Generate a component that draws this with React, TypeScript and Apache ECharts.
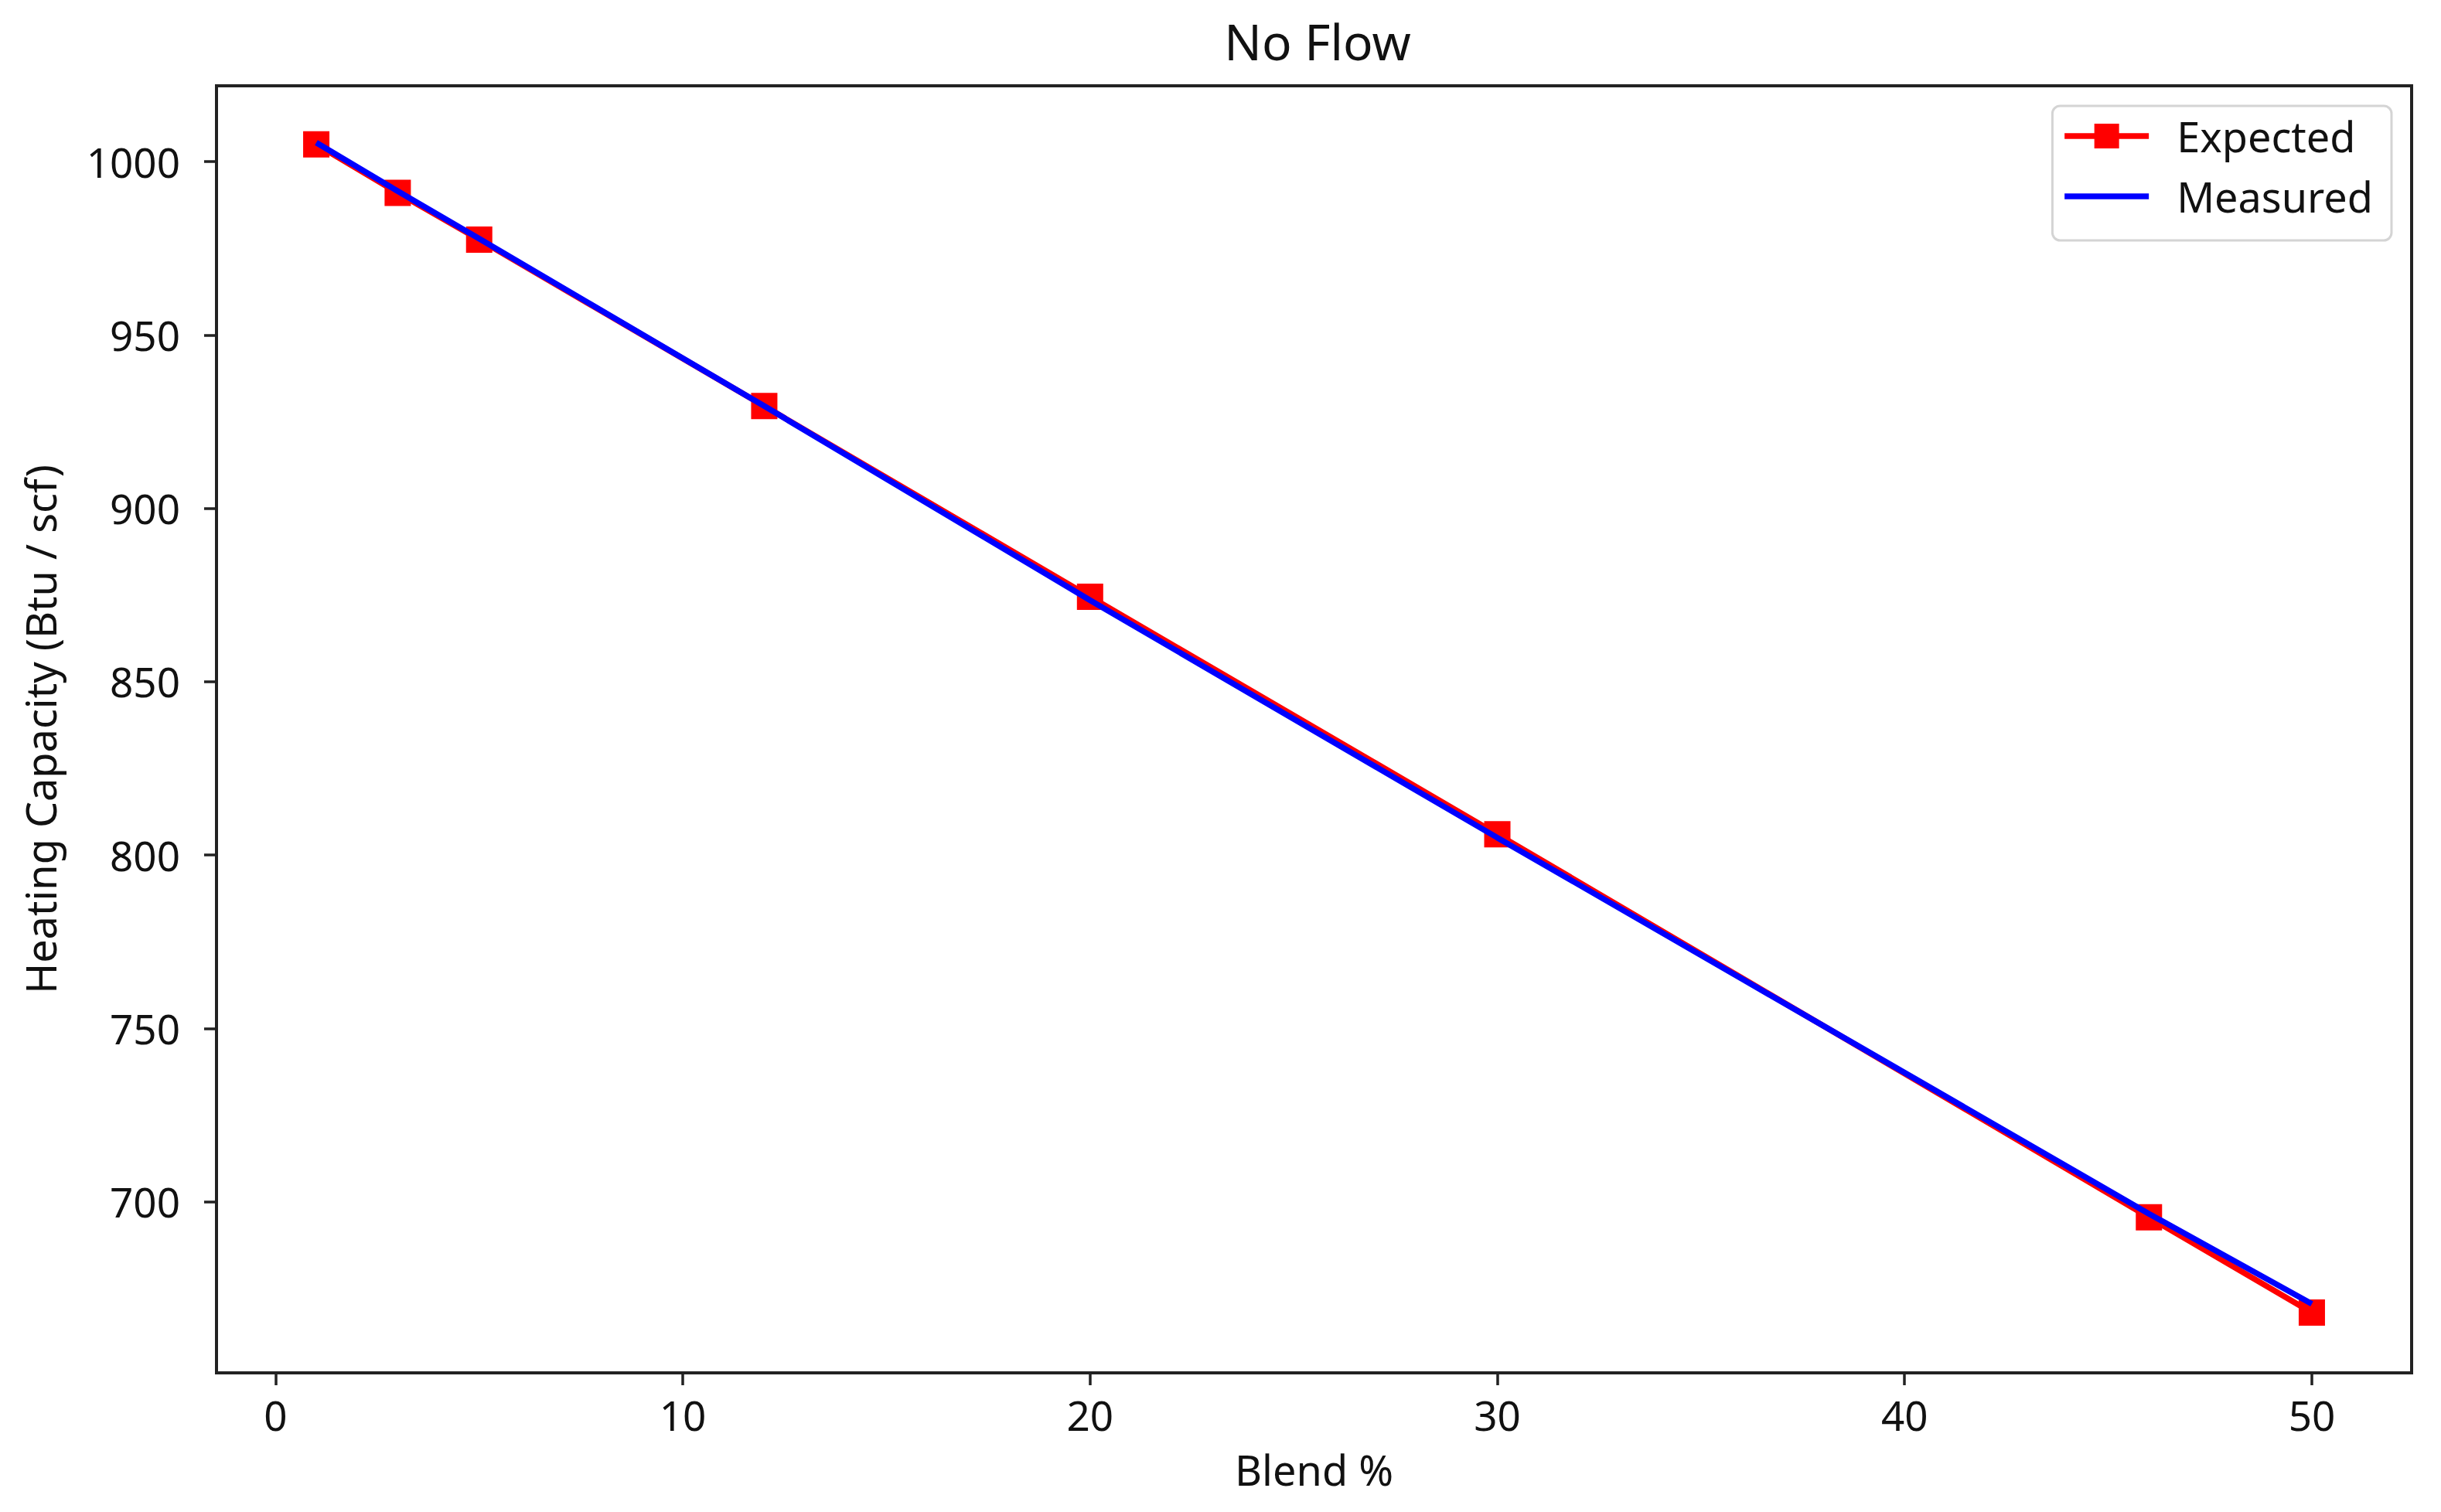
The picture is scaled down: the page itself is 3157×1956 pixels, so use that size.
import React, { useEffect, useRef } from "react";
import * as echarts from "echarts";

const blendPct = [1, 3, 5, 12, 20, 30, 46, 50];
const expectedValues = [1005, 991, 977.5, 929.5, 874.5, 806, 695.5, 668];
const measuredValues = [1005.5, 991.5, 977.8, 929.5, 873.5, 805, 696.5, 670.5];
const xTickValues = [0, 10, 20, 30, 40, 50];
const yTickValues = [700, 750, 800, 850, 900, 950, 1000];

const FONT = "Noto Sans";

export default function App() {
  const ref = useRef<HTMLDivElement>(null);
  useEffect(() => {
    if (!ref.current) return;
    const chart = echarts.init(ref.current, null, { renderer: "svg" });
    const expected = blendPct.map((x, i) => [x, expectedValues[i]]);
    const measured = blendPct.map((x, i) => [x, measuredValues[i]]);
    chart.setOption({
      animation: false,
      backgroundColor: "#ffffff",
      textStyle: { fontFamily: FONT },
      title: {
        text: "No Flow",
        left: 1699,
        textAlign: "center",
        top: 16,
        textStyle: { fontFamily: FONT, fontSize: 64, fontWeight: "normal", color: "#111", lineHeight: 64 },
      },
      grid: {
        left: 280,
        right: 38,
        top: 111,
        bottom: 180,
        show: true,
        borderColor: "#222",
        borderWidth: 4,
        backgroundColor: "transparent",
      },
      legend: {
        orient: "vertical",
        right: 64,
        top: 137,
        padding: [12, 24, 30, 12],
        itemWidth: 109,
        itemHeight: 40,
        itemGap: 24,
        backgroundColor: "rgba(255,255,255,0.8)",
        borderColor: "#d4d4d4",
        borderWidth: 3,
        borderRadius: 10,
        lineStyle: { width: 7.5 },
        textStyle: { fontFamily: FONT, fontSize: 54, color: "#111", lineHeight: 40, padding: [0, 0, 0, 31] },
        data: [
          { name: "Expected" },
          { name: "Measured", itemStyle: { opacity: 0 } },
        ],
      },
      xAxis: {
        type: "value",
        min: -1.45,
        max: 52.45,
        name: "Blend %",
        nameLocation: "middle",
        nameGap: 98,
        nameTextStyle: { fontFamily: FONT, fontSize: 54, color: "#111", lineHeight: 54 },
        splitLine: { show: false },
        axisLine: { show: true, onZero: false, lineStyle: { color: "#222", width: 4 } },
        axisTick: { show: true, length: 16, customValues: xTickValues, lineStyle: { color: "#222", width: 3.5 } },
        axisLabel: {
          customValues: xTickValues,
          margin: 28,
          fontFamily: FONT,
          fontSize: 53,
          color: "#111",
          lineHeight: 53,
          formatter: (v: number) => String(v),
        },
      },
      yAxis: {
        type: "value",
        min: 650.6,
        max: 1021.9,
        name: "Heating Capacity (Btu / scf)",
        nameLocation: "middle",
        nameGap: 201,
        nameTextStyle: { fontFamily: FONT, fontSize: 54, color: "#111", lineHeight: 54 },
        splitLine: { show: false },
        axisLine: { show: true, onZero: false, lineStyle: { color: "#222", width: 4 } },
        axisTick: { show: true, length: 16, customValues: yTickValues, lineStyle: { color: "#222", width: 3.5 } },
        axisLabel: {
          customValues: yTickValues,
          margin: 47,
          fontFamily: FONT,
          fontSize: 53,
          color: "#111",
          lineHeight: 53,
          formatter: (v: number) => String(v),
        },
      },
      series: [
        {
          name: "Expected",
          type: "line",
          data: expected,
          symbol: "rect",
          symbolSize: 34,
          showSymbol: true,
          color: "#ff0000",
          itemStyle: { color: "#ff0000" },
          lineStyle: { color: "#ff0000", width: 7.5 },
          z: 2,
        },
        {
          name: "Measured",
          type: "line",
          data: measured,
          symbol: "none",
          color: "#0000ff",
          lineStyle: { color: "#0000ff", width: 7.5 },
          z: 3,
        },
      ],
    });
    return () => chart.dispose();
  }, []);
  return (
    <div
      ref={ref}
      style={{ position: "fixed", left: 0, top: 0, width: 3157, height: 1956, background: "#fff" }}
    />
  );
}
